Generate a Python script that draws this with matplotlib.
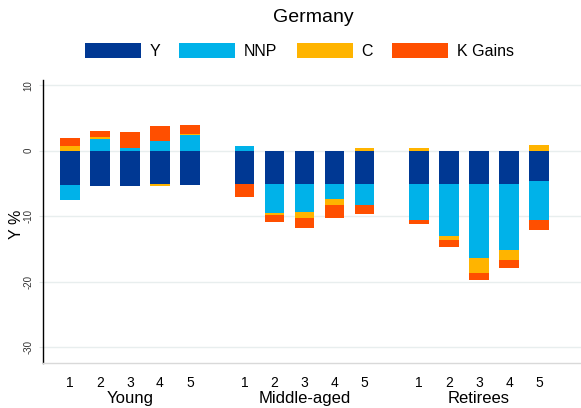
import numpy as np
import matplotlib
matplotlib.use("Agg")
import matplotlib.pyplot as plt
from matplotlib.patches import Patch
from matplotlib.transforms import blended_transform_factory

plt.rcParams["font.family"] = ["Liberation Sans", "DejaVu Sans"]

# Decomposition of the change in income (Y %) by age group and quintile
groups = ["Young", "Middle-aged", "Retirees"]
quintiles = ["1", "2", "3", "4", "5"]
series = ["Y", "NNP", "C", "K Gains"]

y_vals = [-5.25, -5.4, -5.4, -5.1, -5.3,
          -5.0, -5.1, -5.0, -5.0, -5.0,
          -5.1, -5.1, -5.1, -5.0, -4.65]
nnp_vals = [-2.2, 1.85, 0.35, 1.45, 2.35,
            0.7, -4.45, -4.4, -2.4, -3.2,
            -5.4, -7.9, -11.3, -10.2, -5.85]
c_vals = [0.7, 0.25, 0.1, -0.3, 0.2,
          0.0, -0.3, -0.9, -0.8, 0.37,
          0.37, -0.55, -2.3, -1.5, 0.87]
k_vals = [1.2, 0.9, 2.4, 2.35, 1.45,
          -2.0, -1.0, -1.55, -2.1, -1.5,
          -0.6, -1.1, -1.0, -1.25, -1.65]

colors = ["#003893", "#00b2e9", "#ffb400", "#ff4f00"]

fig = plt.figure(figsize=(5.81, 4.08), dpi=100)
ax = fig.add_axes([0.074, 0.110, 0.926, 0.694])

group_step = 5.82
positions = np.array([g * group_step + i for g in range(len(groups))
                      for i in range(len(quintiles))])

pos_base = np.zeros(len(positions))
neg_base = np.zeros(len(positions))
for vals, col in zip([y_vals, nnp_vals, c_vals, k_vals], colors):
    v = np.array(vals)
    bottoms = np.where(v >= 0, pos_base, neg_base)
    ax.bar(positions, v, bottom=bottoms, width=0.64, color=col,
           linewidth=0, zorder=3)
    pos_base = pos_base + np.where(v > 0, v, 0)
    neg_base = neg_base + np.where(v < 0, v, 0)

ax.set_ylim(-32.4, 10.8)
ax.set_xlim(-0.9, positions[-1] + 1.4)

ax.set_yticks([10, 0, -10, -20, -30])
ax.set_yticklabels(["10", "0", "-10", "-20", "-30"], rotation=90,
                   va="center", fontsize=7, color="#333333")
ax.yaxis.grid(True, color="#e8eeee", linewidth=1.0, zorder=0)
ax.tick_params(axis="y", length=3, color="#e0e6e6", pad=4)

ax.set_xticks(positions)
ax.set_xticklabels(quintiles * len(groups), fontsize=10)
ax.tick_params(axis="x", length=0, pad=9)

trans = blended_transform_factory(ax.transData, ax.transAxes)
for g, name in enumerate(groups):
    ax.text(g * group_step + 2, -0.125, name, transform=trans,
            ha="center", va="center", fontsize=12)

ax.set_ylabel("Y %", fontsize=11.5, labelpad=0)
ax.yaxis.set_label_coords(-0.036, 0.49)

for side in ["top", "right"]:
    ax.spines[side].set_visible(False)
ax.spines["left"].set_color("black")
ax.spines["left"].set_linewidth(1.0)
ax.spines["bottom"].set_color("#d9d9d9")
ax.spines["bottom"].set_linewidth(1.0)

fig.text(0.54, 0.957, "Germany", ha="center", va="center", fontsize=14)

handles = [Patch(facecolor=c, edgecolor="none") for c in colors]
fig.legend(handles, series, loc="center", bbox_to_anchor=(0.515, 0.875),
           ncol=4, frameon=False, fontsize=11.5, handlelength=3.5,
           handleheight=1.05, handletextpad=0.55, columnspacing=1.2)

fig.savefig("out.png", dpi=100)
